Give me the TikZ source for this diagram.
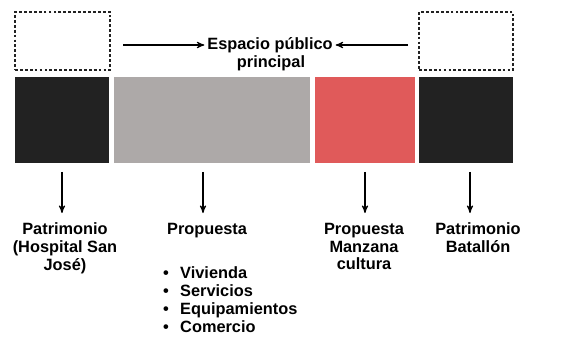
\documentclass[tikz,border=0pt]{standalone}
\usepackage{fontspec}
\setmainfont{Liberation Sans}
\usetikzlibrary{arrows,positioning}
\definecolor{negro}{RGB}{34,34,34}
\definecolor{gris}{RGB}{173,169,168}
\definecolor{rojo}{RGB}{224,90,90}
\tikzset{>=stealth',
         bloque/.style={anchor=north west, inner sep=0pt, outer sep=0pt, minimum height=1.72cm},
         vacio/.style={anchor=north west, inner sep=0pt, outer sep=0pt, minimum height=1.16cm,
                       draw=negro, line width=0.7pt, dash pattern=on 1.6pt off 1.2pt},
         rotulo/.style={anchor=north, align=center, inner sep=1pt,
                        font=\fontsize{9.3}{10.1}\selectfont\bfseries},
         flecha/.style={->, line width=0.6pt, shorten <=0.18cm, shorten >=0.16cm}}
\newcommand{\vineta}{\makebox[1.05em][l]{\textbullet}}

\begin{document}
\begin{tikzpicture}[x=0.02cm, y=-0.02cm]

	\useasboundingbox (0,0) rectangle (568,348);

	% cajas vacias arriba
	\node[vacio, minimum width=1.9cm]  (vac1) at (15,12) {};
	\node[vacio, minimum width=1.88cm] (vac2) at (419,12) {};

	% espacio publico
	\node[rotulo, anchor=center, inner sep=1.5pt] (esp) at (270,45) {Espacio público};
	\node[rotulo, anchor=center] (princ) at (271,63) {principal};
	\coordinate (izq) at (123,45);
	\coordinate (der) at (408,45);
	\draw[flecha, shorten <=0pt, shorten >=0pt] (izq) -- (esp.west);
	\draw[flecha, shorten <=0pt, shorten >=0pt] (der) -- (esp.east);

	% franja de manzanas
	\node[bloque, fill=negro, minimum width=1.88cm] (blk1) at (15,77) {};
	\node[bloque, fill=gris,  minimum width=3.92cm] (gris) at (114,77) {};
	\node[bloque, fill=rojo,  minimum width=2.0cm]  (rojo) at (315,77) {};
	\node[bloque, fill=negro, minimum width=1.88cm] (blk2) at (419,77) {};

	% rotulos
	\node[rotulo] (pat1) at (65,221) {Patrimonio\\(Hospital San\\José)};
	\node[rotulo, anchor=north west] (prop) at (165,221) {Propuesta};
	\node[rotulo, anchor=north west, align=left] (lista) at (161,265)
		{\vineta Vivienda\\ \vineta Servicios\\ \vineta Equipamientos\\ \vineta Comercio};
	\node[rotulo] (propm) at (364,221) {Propuesta\\Manzana\\cultura};
	\node[rotulo] (pat2) at (478,221) {Patrimonio\\Batallón};

	% flechas hacia abajo
	\coordinate (g1) at (203,163);
	\coordinate (b1) at (470,163);
	\draw[flecha] (blk1.south) -- (blk1.south |- pat1.north);
	\draw[flecha] (g1) -- (g1 |- prop.north);
	\draw[flecha] (rojo.south) -- (rojo.south |- propm.north);
	\draw[flecha] (b1) -- (b1 |- pat2.north);

\end{tikzpicture}
\end{document}
